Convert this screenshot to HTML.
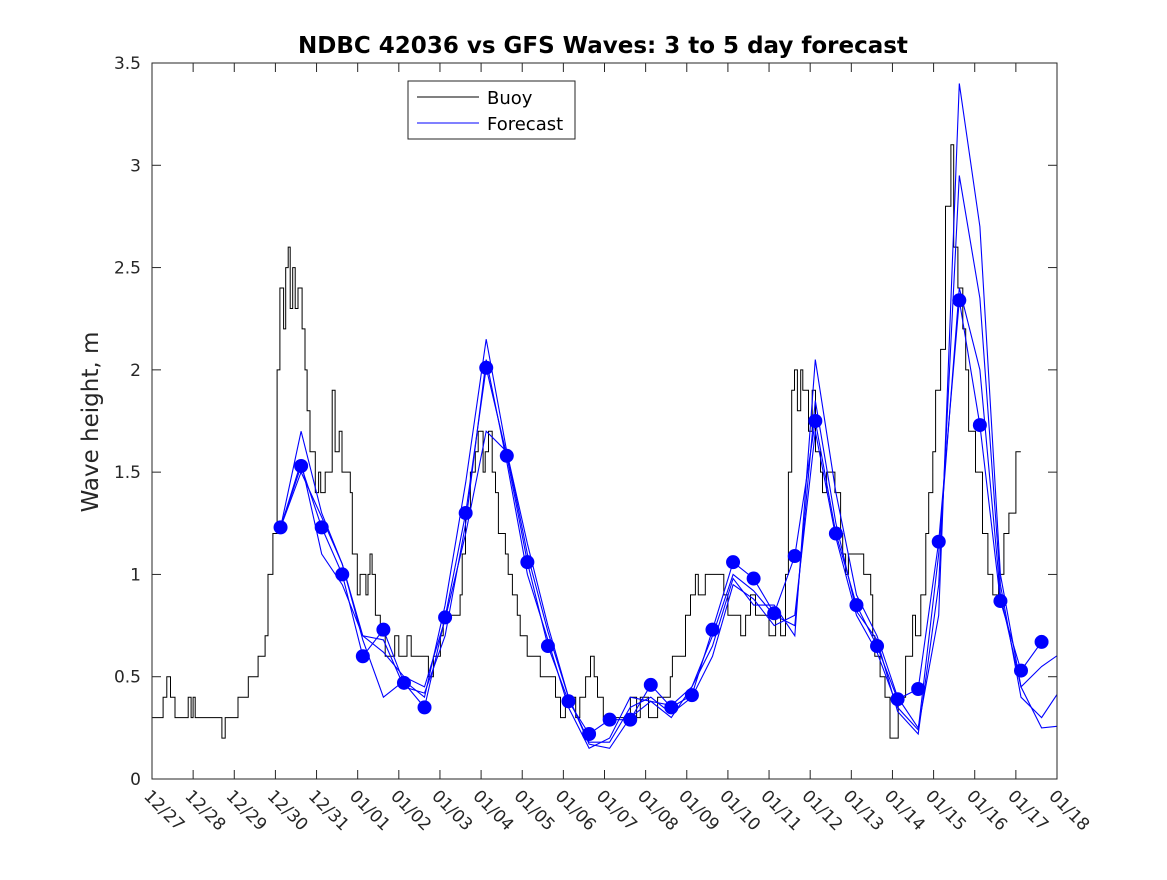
<!DOCTYPE html>
<html><head><meta charset="utf-8"><style>
body{margin:0;background:#fff}
svg{font-family:"DejaVu Sans","Liberation Sans",sans-serif}
</style></head><body>
<svg id="chart" width="1167" height="875" viewBox="0 0 1167 875">
<rect x="0" y="0" width="1167" height="875" fill="#fff"/>
<defs><clipPath id="plotclip"><rect x="152" y="63" width="905" height="716"/></clipPath></defs>
<rect x="152" y="63" width="905" height="716" fill="#fff"/>
<g id="ticks"></g>
<g id="series" clip-path="url(#plotclip)"></g>
<rect x="152" y="63" width="905" height="716" fill="none" stroke="#262626" stroke-width="1"/>
<text x="603" y="53" text-anchor="middle" font-size="23" font-weight="bold" fill="#000">NDBC 42036 vs GFS Waves: 3 to 5 day forecast</text>
<text transform="translate(98,422) rotate(-90)" text-anchor="middle" font-size="23" fill="#262626">Wave height, m</text>
<g>
<rect x="408" y="81" width="167" height="58" fill="#fff" stroke="#262626" stroke-width="1"/>
<line x1="417" y1="97" x2="479" y2="97" stroke="#000" stroke-width="1"/>
<text x="487" y="104" font-size="18" fill="#000">Buoy</text>
<line x1="417" y1="123" x2="479" y2="123" stroke="#00f" stroke-width="1"/>
<text x="487" y="130" font-size="18" fill="#000">Forecast</text>
</g>
</svg>
<script>
const xLabels=["12/27","12/28","12/29","12/30","12/31","01/01","01/02","01/03","01/04","01/05","01/06","01/07","01/08","01/09","01/10","01/11","01/12","01/13","01/14","01/15","01/16","01/17","01/18"];
const yTicks=[0,0.5,1,1.5,2,2.5,3,3.5];
const yTickLabels=["0","0.5","1","1.5","2","2.5","3","3.5"];
// buoy step breakpoints: day since 12/27, wave height (m)
const buoyDays=[0,0.27,0.36,0.45,0.56,0.88,0.95,1.0,1.05,1.14,1.70,1.78,1.85,2.09,2.34,2.58,2.75,2.82,2.94,3.04,3.11,3.2,3.25,3.31,3.36,3.42,3.48,3.55,3.65,3.72,3.77,3.84,3.97,4.05,4.1,4.21,4.38,4.45,4.55,4.62,4.70,4.82,4.87,4.99,5.06,5.2,5.25,5.30,5.35,5.43,5.55,5.67,5.9,6.0,6.2,6.3,6.52,6.72,6.84,7.01,7.08,7.49,7.54,7.62,7.74,7.86,7.93,8.05,8.1,8.18,8.27,8.35,8.42,8.59,8.66,8.76,8.88,8.95,9.12,9.44,9.81,9.93,10.05,10.3,10.4,10.54,10.66,10.75,10.83,10.97,11.63,11.78,11.87,12.07,12.29,12.60,12.65,12.97,13.09,13.21,13.28,13.45,13.9,14.0,14.31,14.43,14.55,14.67,15.0,15.16,15.28,15.40,15.47,15.55,15.62,15.69,15.77,15.82,15.96,16.05,16.13,16.25,16.30,16.40,16.6,16.74,16.79,16.86,16.93,17.2,17.3,17.47,17.52,17.57,17.70,17.82,17.94,18.14,18.32,18.49,18.56,18.69,18.81,18.88,18.98,19.05,19.17,19.29,19.42,19.49,19.59,19.71,19.78,19.85,20.02,20.19,20.32,20.44,20.58,20.71,20.83,21.00,21.05,21.12,21.24,21.31];
const buoyVals=[0.3,0.4,0.5,0.4,0.3,0.4,0.3,0.4,0.3,0.3,0.2,0.3,0.3,0.4,0.5,0.6,0.7,1.0,1.2,2.0,2.4,2.2,2.5,2.6,2.3,2.5,2.3,2.4,2.2,2.0,1.8,1.6,1.4,1.5,1.4,1.5,1.9,1.6,1.7,1.5,1.5,1.4,1.1,0.9,1.0,0.9,1.0,1.1,1.0,0.8,0.7,0.6,0.7,0.6,0.7,0.6,0.6,0.5,0.6,0.7,0.8,0.9,1.1,1.3,1.5,1.6,1.7,1.5,1.6,1.7,1.5,1.4,1.2,1.1,1.0,0.9,0.8,0.7,0.6,0.5,0.4,0.3,0.4,0.3,0.4,0.5,0.6,0.5,0.4,0.3,0.4,0.3,0.4,0.3,0.4,0.5,0.6,0.8,0.9,1.0,0.9,1.0,0.9,0.8,0.7,0.8,0.9,0.8,0.7,0.8,0.7,1.0,1.5,1.9,2.0,1.8,2.0,1.9,1.7,1.9,1.6,1.5,1.4,1.5,1.4,1.2,1.1,1.0,1.1,1.1,1.0,0.9,0.7,0.6,0.5,0.4,0.2,0.4,0.6,0.8,0.7,0.9,1.2,1.4,1.6,1.9,2.1,2.8,3.1,2.6,2.4,2.2,2.0,1.7,1.5,1.2,1.0,0.9,1.0,1.2,1.3,1.6,1.6];
// forecast on half-day grid starting 3.125 days
const fcStart=3.125, fcStep=0.5;
const dotVals=[1.23,1.53,1.23,1.00,0.60,0.73,0.47,0.35,0.79,1.30,2.01,1.58,1.06,0.65,0.38,0.22,0.29,0.29,0.46,0.35,0.41,0.73,1.06,0.98,0.81,1.09,1.75,1.20,0.85,0.65,0.39,0.44,1.16,2.34,1.73,0.87,0.53,0.67];
const fcA=[1.23,1.70,1.30,1.05,0.68,0.40,0.48,0.40,0.85,1.45,2.15,1.60,1.15,0.75,0.40,0.17,0.15,0.30,0.38,0.36,0.45,0.65,0.98,0.85,0.85,0.70,2.05,1.40,0.90,0.70,0.40,0.25,0.80,3.40,2.70,1.00,0.45,0.25,0.26];
const fcB=[1.23,1.55,1.10,0.95,0.70,0.68,0.45,0.42,0.70,1.25,2.05,1.55,1.00,0.68,0.35,0.15,0.20,0.40,0.38,0.30,0.45,0.70,1.00,0.92,0.80,0.75,1.85,1.25,0.82,0.68,0.33,0.22,0.95,2.95,2.35,0.95,0.40,0.30,0.45];
const fcC=[1.23,1.50,1.28,1.05,0.70,0.62,0.50,0.45,0.78,1.20,1.70,1.60,1.10,0.72,0.40,0.18,0.18,0.35,0.40,0.32,0.40,0.60,0.95,0.88,0.75,0.80,1.70,1.18,0.80,0.62,0.35,0.24,1.10,2.40,2.00,0.90,0.45,0.55,0.62];

const NS="http://www.w3.org/2000/svg";
const X=d=>152+d*(905/22);
const Y=v=>779-v*(716/3.5);
const tg=document.getElementById('ticks');
const sg=document.getElementById('series');
function mk(tag,attrs,parent){const e=document.createElementNS(NS,tag);for(const k in attrs)e.setAttribute(k,attrs[k]);parent.appendChild(e);return e;}

xLabels.forEach((lab,i)=>{
  const x=X(i);
  if(i>0&&i<xLabels.length-1){
    const t=mk('line',{x1:x,y1:779,x2:x,y2:770,stroke:'#262626'},tg);
    
    
    const t2=mk('line',{x1:x,y1:63,x2:x,y2:72,stroke:'#262626'},tg);
    
    
  }
  const tx=mk('text',{transform:`translate(${x-9},${797}) rotate(45)`,'font-size':17,fill:'#262626'},tg);
  tx.textContent=lab;
  
  
});
yTicks.forEach((v,i)=>{
  const y=Y(v);
  if(i>0&&i<yTicks.length-1){
    const t=mk('line',{x1:152,y1:y,x2:161,y2:y,stroke:'#262626'},tg);
    
    
    const t2=mk('line',{x1:1057,y1:y,x2:1048,y2:y,stroke:'#262626'},tg);
    
    
  }
  const tx=mk('text',{x:141,y:y+6,'text-anchor':'end','font-size':17,fill:'#262626'},tg);
  tx.textContent=yTickLabels[i];
  
  
});

// buoy step line
let d='';
buoyDays.forEach((t,i)=>{
  const x=X(t).toFixed(1), y=Y(buoyVals[i]).toFixed(1);
  if(i===0)d+=`M${x},${y}`;else d+=`H${x}V${y}`;
});
d+=`H${X(buoyDays[buoyDays.length-1]+0.05).toFixed(1)}`;
const bp=mk('path',{d:d,fill:'none',stroke:'#000','stroke-width':1},sg);



[fcA,fcB,fcC,dotVals].forEach((arr,j)=>{
  const pts=arr.map((v,i)=>`${X(fcStart+i*fcStep).toFixed(1)},${Y(v).toFixed(1)}`).join(' ');
  const pl=mk('polyline',{points:pts,fill:'none',stroke:'#00f','stroke-width':1.1},sg);
  
  
});
dotVals.forEach((v,i)=>{
  const c=mk('circle',{cx:X(fcStart+i*fcStep),cy:Y(v),r:7,fill:'#00f'},sg);
  
  
});
</script>
</body></html>
